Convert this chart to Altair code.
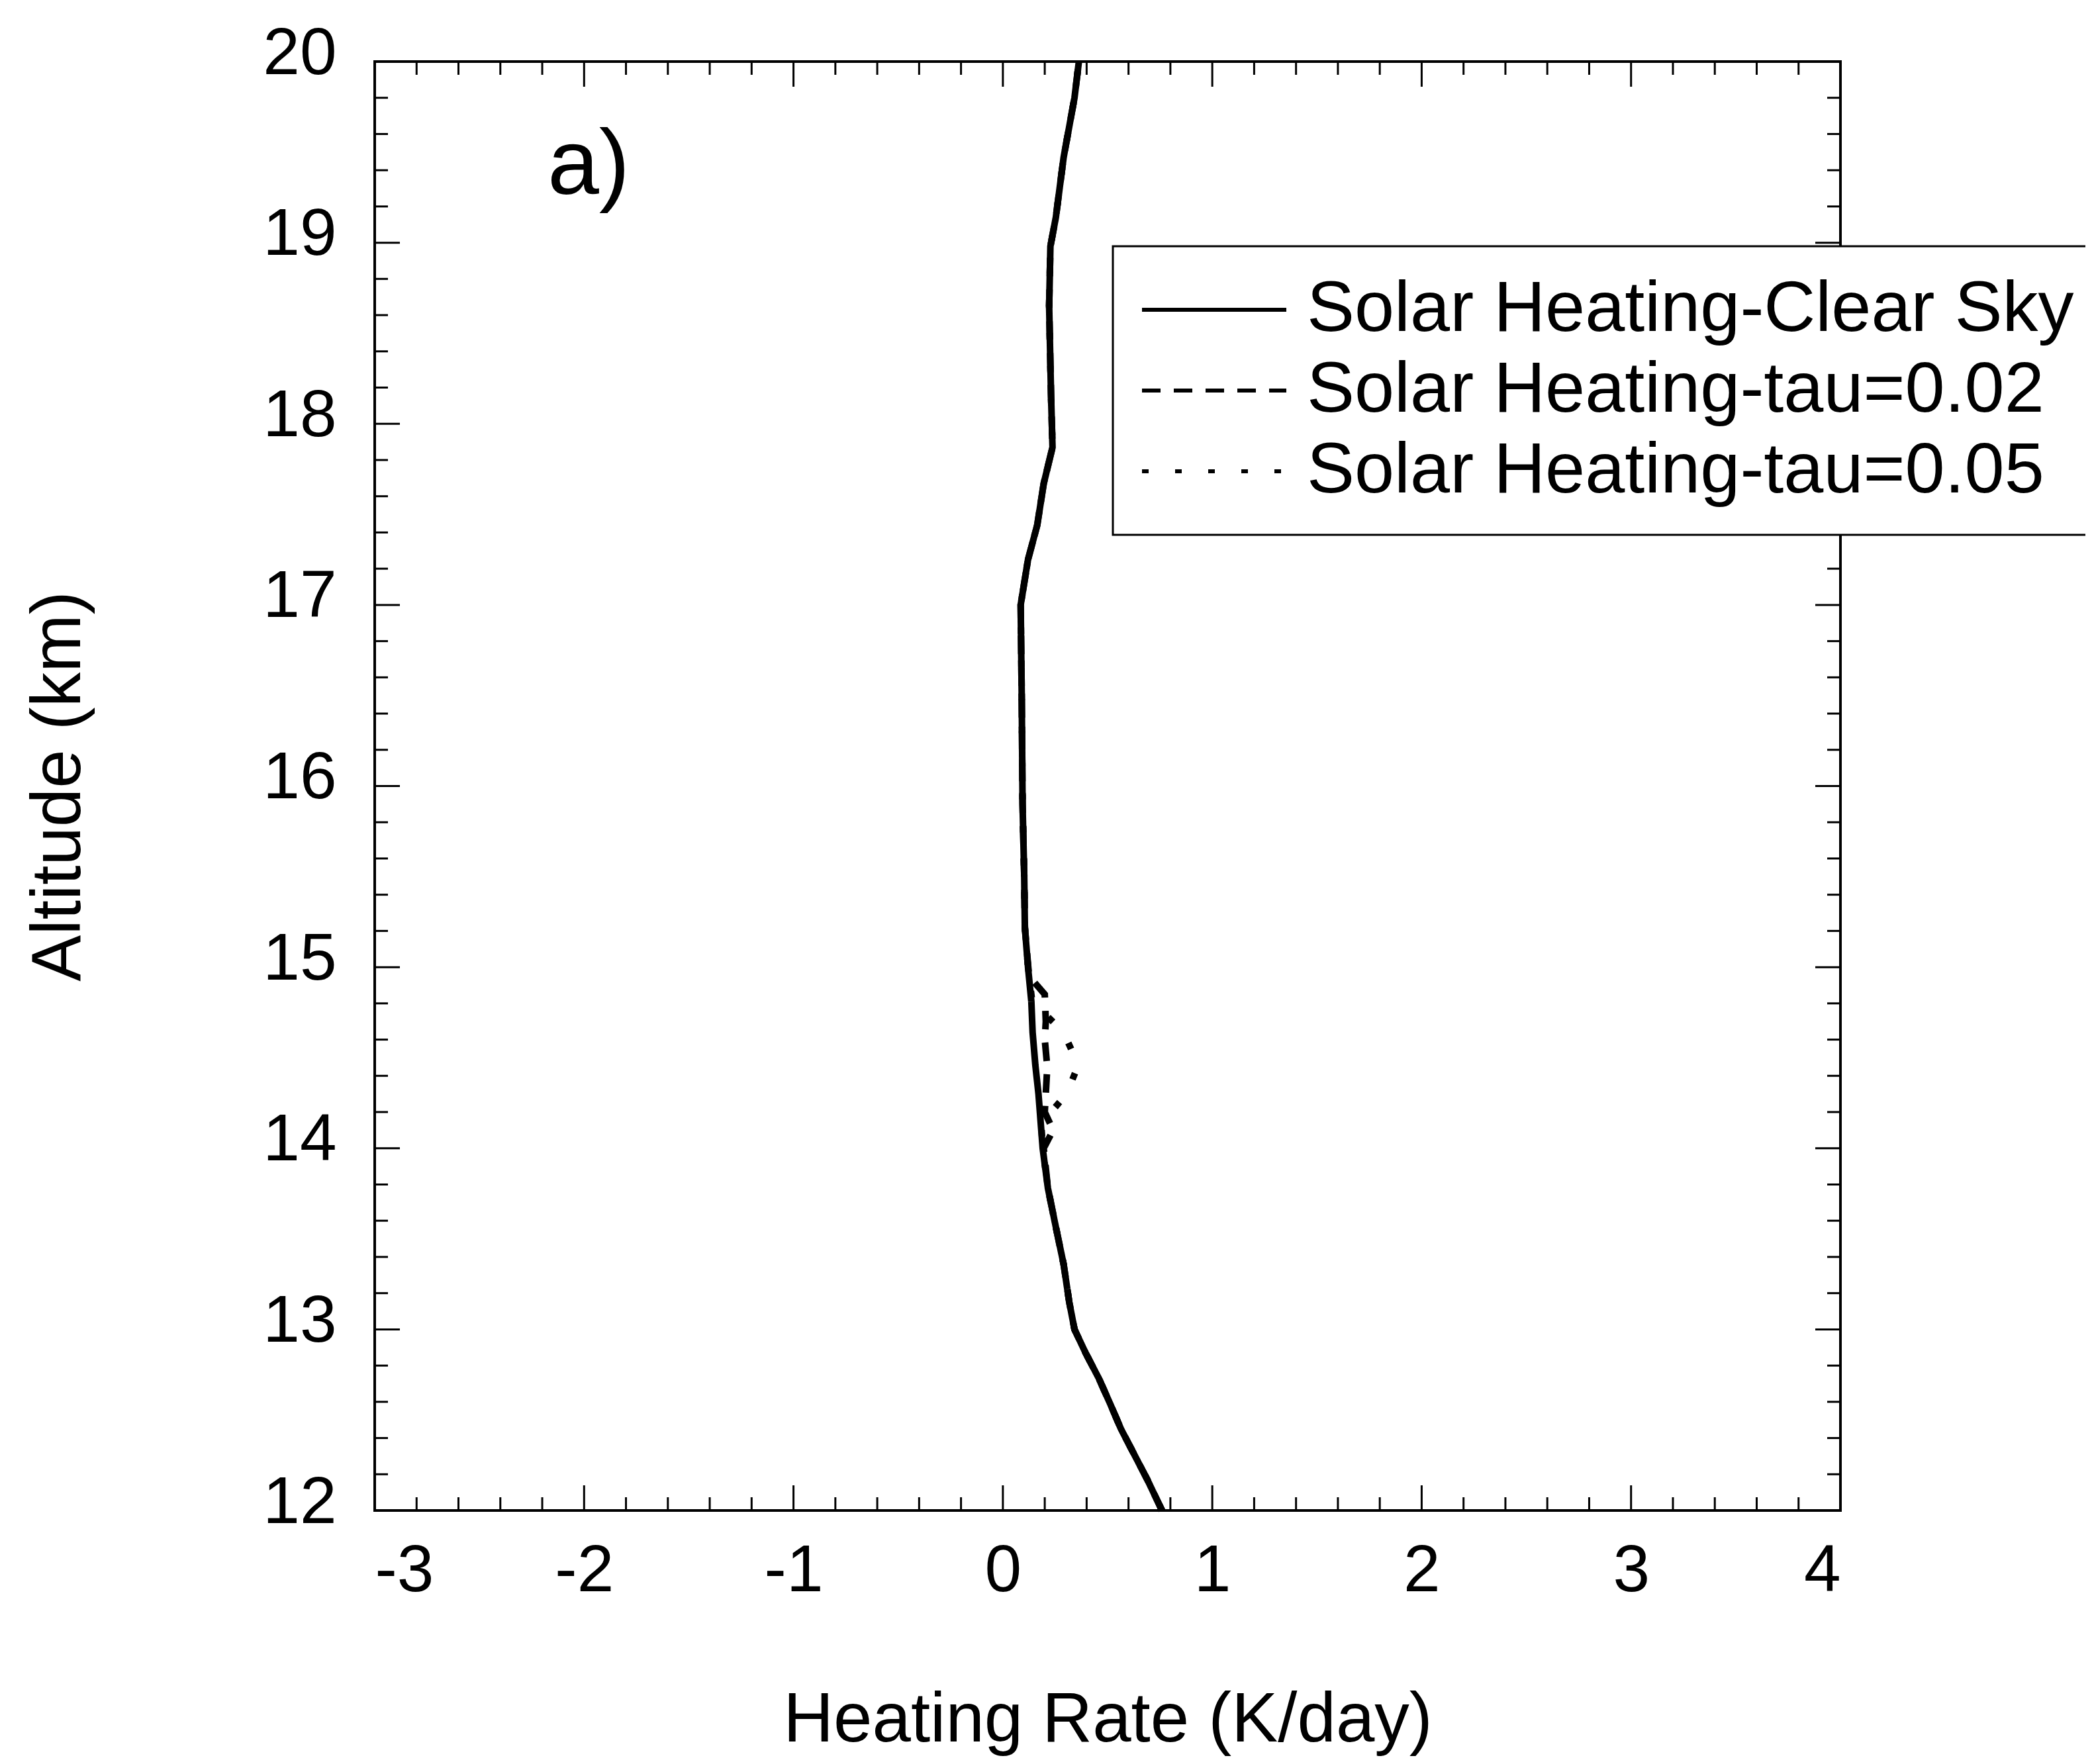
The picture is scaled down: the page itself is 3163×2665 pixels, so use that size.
import altair as alt
import pandas as pd

W, H = 2214, 2189
FONT = "Liberation Sans"

series_names = ["Solar Heating-Clear Sky", "Solar Heating-tau=0.02", "Solar Heating-tau=0.05"]

clear_alt = [12.0, 12.17, 12.31, 12.45, 12.59, 12.73, 12.87, 13.0, 13.15, 13.36, 13.57, 13.78,
             14.0, 14.15, 14.3, 14.46, 14.64, 14.81, 15.0, 15.22, 15.5, 15.9, 16.5, 17.0, 17.25,
             17.44, 17.67, 17.87, 18.16, 18.65, 18.98, 19.14, 19.47, 19.8, 20.0]
clear_hr = [0.76, 0.69, 0.627, 0.564, 0.512, 0.458, 0.395, 0.342, 0.317, 0.29, 0.252, 0.215,
            0.19, 0.18, 0.17, 0.155, 0.142, 0.136, 0.12, 0.105, 0.102, 0.094, 0.09, 0.085, 0.12,
            0.164, 0.195, 0.237, 0.23, 0.221, 0.227, 0.253, 0.29, 0.342, 0.363]

tau02_alt = [12.0, 12.17, 12.31, 12.45, 12.59, 12.73, 12.87, 13.0, 13.15, 13.36, 13.57, 13.78,
             14.0, 14.1, 14.2, 14.3, 14.45, 14.6, 14.7, 14.85, 14.95, 15.22, 15.5, 15.9, 16.5,
             17.0, 17.25, 17.44, 17.67, 17.87, 18.16, 18.65, 18.98, 19.14, 19.47, 19.8, 20.0]
tau02_hr = [0.76, 0.69, 0.627, 0.564, 0.512, 0.458, 0.395, 0.342, 0.317, 0.29, 0.252, 0.215,
            0.195, 0.24, 0.2, 0.205, 0.212, 0.2, 0.205, 0.2, 0.125, 0.105, 0.102, 0.094, 0.09,
            0.085, 0.12, 0.164, 0.195, 0.237, 0.23, 0.221, 0.227, 0.253, 0.29, 0.342, 0.363]

tau05_alt = [12.0, 12.17, 12.31, 12.45, 12.59, 12.73, 12.87, 13.0, 13.15, 13.36, 13.57, 13.78,
             14.0, 14.1, 14.2, 14.3, 14.46, 14.64, 14.72, 14.81, 15.0, 15.22, 15.5, 15.9, 16.5,
             17.0, 17.25, 17.44, 17.67, 17.87, 18.16, 18.65, 18.98, 19.14, 19.47, 19.8, 20.0]
tau05_hr = [0.76, 0.69, 0.627, 0.564, 0.512, 0.458, 0.395, 0.342, 0.317, 0.29, 0.252, 0.215,
            0.19, 0.185, 0.23, 0.305, 0.36, 0.29, 0.22, 0.14, 0.12, 0.105, 0.102, 0.094, 0.09,
            0.085, 0.12, 0.164, 0.195, 0.237, 0.23, 0.221, 0.227, 0.253, 0.29, 0.342, 0.363]

x_major = [-3, -2, -1, 0, 1, 2, 3, 4]
x_minor = [-2.8, -2.6, -2.4, -2.2, -1.8, -1.6, -1.4, -1.2, -0.8, -0.6, -0.4, -0.2,
           0.2, 0.4, 0.6, 0.8, 1.2, 1.4, 1.6, 1.8, 2.2, 2.4, 2.6, 2.8, 3.2, 3.4, 3.6, 3.8]
y_major = [12, 13, 14, 15, 16, 17, 18, 19, 20]
y_minor = [12.2, 12.4, 12.6, 12.8, 13.2, 13.4, 13.6, 13.8, 14.2, 14.4, 14.6, 14.8,
           15.2, 15.4, 15.6, 15.8, 16.2, 16.4, 16.6, 16.8, 17.2, 17.4, 17.6, 17.8,
           18.2, 18.4, 18.6, 18.8, 19.2, 19.4, 19.6, 19.8]

rows = []
for name, alts, hrs in zip(series_names, [clear_alt, tau02_alt, tau05_alt],
                           [clear_hr, tau02_hr, tau05_hr]):
    for a, h in zip(alts, hrs):
        rows.append({"series": name, "alt": a, "hr": h})
df = pd.DataFrame(rows)

x_scale = alt.Scale(domain=[-3, 4], nice=False, zero=False)
y_scale = alt.Scale(domain=[12, 20], nice=False, zero=False)

x_axis = alt.Axis(
    title="Heating Rate (K/day)", values=x_major, labelExpr="'' + datum.value",
    ticks=False, tickSize=0, domain=False, grid=False,
    labelFont=FONT, labelFontSize=100, labelColor="black", labelPadding=42,
    titleFont=FONT, titleFontSize=105, titleFontWeight="normal", titleColor="black",
    titleY=348, titleBaseline="alphabetic")
y_axis = alt.Axis(
    title="Altitude (km)", values=y_major,
    ticks=False, tickSize=0, domain=False, grid=False,
    labelFont=FONT, labelFontSize=100, labelColor="black", labelPadding=58,
    labelOffset=-12,
    titleFont=FONT, titleFontSize=105, titleFontWeight="normal", titleColor="black",
    titleX=-446, titleY=H / 2, titleBaseline="alphabetic", titleAngle=270)

lines = alt.Chart(df).mark_line(color="black", strokeWidth=10).encode(
    x=alt.X("hr:Q", scale=x_scale, axis=x_axis),
    y=alt.Y("alt:Q", scale=y_scale, axis=y_axis),
    strokeDash=alt.StrokeDash("series:N", scale=alt.Scale(
        domain=series_names, range=[[1, 0], [28, 20], [10, 40]]),
        legend=alt.Legend(
            title=None, orient="none", legendX=1115, legendY=279,
            symbolType="stroke", symbolSize=47524, symbolStrokeWidth=6,
            symbolStrokeColor="black", clipHeight=110, rowPadding=12,
            labelFont=FONT, labelFontSize=108, labelColor="black", labelOffset=28,
            labelLimit=3000, padding=41, strokeColor="black", fillColor="white")),
    order=alt.Order("alt:Q"),
)

def hticks(vals, length, top):
    d = pd.DataFrame({"hr": vals})
    if top:
        yv, y2v = 0, length
    else:
        yv, y2v = H, H - length
    return alt.Chart(d).mark_rule(color="black", strokeWidth=3).encode(
        x=alt.X("hr:Q", scale=x_scale, axis=x_axis),
        y=alt.value(yv), y2=alt.value(y2v))

def vticks(vals, length, left):
    d = pd.DataFrame({"alt": vals})
    if left:
        xv, x2v = 0, length
    else:
        xv, x2v = W, W - length
    return alt.Chart(d).mark_rule(color="black", strokeWidth=3).encode(
        y=alt.Y("alt:Q", scale=y_scale, axis=y_axis),
        x=alt.value(xv), x2=alt.value(x2v))

ticks = [
    hticks(x_major, 38, False), hticks(x_minor, 20, False),
    hticks(x_major, 38, True), hticks(x_minor, 20, True),
    vticks(y_major, 38, True), vticks(y_minor, 20, True),
    vticks(y_major, 38, False), vticks(y_minor, 20, False),
]

label = alt.Chart(pd.DataFrame({"t": ["a)"], "hr": [-2.175], "alt": [19.27]})).mark_text(
    font=FONT, fontSize=140, align="left", baseline="alphabetic", color="black"
).encode(
    x=alt.X("hr:Q", scale=x_scale, axis=x_axis),
    y=alt.Y("alt:Q", scale=y_scale, axis=y_axis),
    text="t:N")

chart = alt.layer(lines, *ticks, label).properties(
    width=W, height=H,
    autosize=alt.AutoSizeParams(type="none"),
    padding={"left": 558, "top": 85, "right": 370, "bottom": 371},
    background="white",
).configure_view(stroke="black", strokeWidth=4).configure_legend(
    strokeColor="black", strokeWidth=3)

chart.save("out.html", embed_options={"renderer": "svg", "actions": False})
